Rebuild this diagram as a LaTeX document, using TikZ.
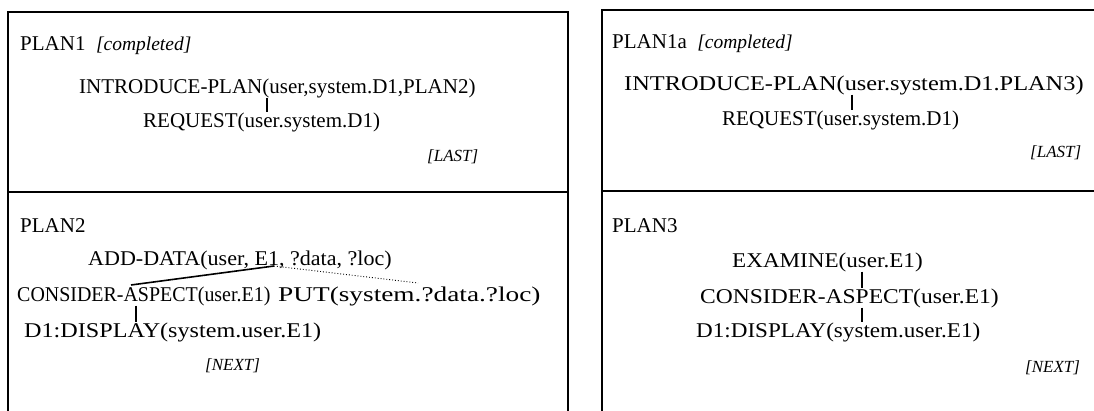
\documentclass[tikz,border=0pt]{standalone}
\usepackage{fontspec}
\usepackage{graphicx}
\setmainfont{Liberation Serif}
\begin{document}
\begin{tikzpicture}[x=1pt,y=-1pt,
  txt/.style={inner sep=0pt,anchor=west,font=\fontsize{21}{23}\selectfont},
  lab/.style={inner sep=0pt,anchor=west,font=\fontsize{17}{19}\selectfont\itshape},
  frame/.style={line width=2.4pt},
  bar/.style={line width=1.8pt},
  dots/.style={line width=0.9pt,dotted}]
\useasboundingbox (0,0) rectangle (1094,411);
% frames
\draw[frame] (8,411) -- (8,12) -- (568,12) -- (568,411);
\draw[frame] (8,192) -- (568,192);
\draw[frame] (602,411) -- (602,10) -- (1094,10);
\draw[frame] (602,191) -- (1094,191);
% PLAN1
\node[txt] (p1) at (20,46) {PLAN1\hspace{0.5em}\textit{\fontsize{19.5}{21}\selectfont [completed]}};
\node[txt] (intro1) at (79,88) {INTRODUCE-PLAN(user,system.D1,PLAN2)};
\node[txt] (req1) at (143,122) {REQUEST(user.system.D1)};
\node[lab] (last1) at (427,157) {[LAST]};
\draw[bar] (intro1.south -| 267,0) -- (req1.north -| 267,0);
% PLAN2
\node[txt] (p2) at (20,226) {PLAN2};
\node[txt] (add) at (88,260) {\scalebox{1.05}[1]{ADD-DATA(user, E1, ?data, ?loc)}};
\node[txt] (cons1) at (17,296) {\scalebox{0.95}[1]{CONSIDER-ASPECT(user.E1)}};
\node[txt] (put) at (278,296) {\scalebox{1.3}[1]{PUT(system.?data.?loc)}};
\node[txt] (disp1) at (24,332) {\scalebox{1.15}[1]{D1:DISPLAY(system.user.E1)}};
\node[lab] (next1) at (205,366) {[NEXT]};
\coordinate (ae) at (274,266);
\coordinate (ca) at (131,285);
\coordinate (pt) at (418,283);
\draw[bar,line width=1.6pt] (ca) -- (ae);
\draw[dots] (ae) -- (pt);
\draw[bar] (cons1.south -| 136,0) -- (disp1.north -| 136,0);
% PLAN1a
\node[txt] (p1a) at (612,44) {PLAN1a\hspace{0.5em}\textit{\fontsize{19.5}{21}\selectfont [completed]}};
\node[txt] (intro2) at (624,85) {\scalebox{1.16}[1]{INTRODUCE-PLAN(user.system.D1.PLAN3)}};
\node[txt] (req2) at (722,120) {REQUEST(user.system.D1)};
\node[lab] (last2) at (1030,153) {[LAST]};
\draw[bar] (intro2.south -| 852,0) -- (req2.north -| 852,0);
% PLAN3
\node[txt] (p3) at (612,226) {PLAN3};
\node[txt] (exam) at (732,262) {\scalebox{1.1}[1]{EXAMINE(user.E1)}};
\node[txt] (cons2) at (700,298) {\scalebox{1.12}[1]{CONSIDER-ASPECT(user.E1)}};
\node[txt] (disp2) at (696,332) {\scalebox{1.1}[1]{D1:DISPLAY(system.user.E1)}};
\node[lab] (next2) at (1025,368) {[NEXT]};
\draw[bar] (exam.south -| 862,0) -- (cons2.north -| 862,0);
\draw[bar] (cons2.south -| 862,0) -- (disp2.north -| 862,0);
\end{tikzpicture}
\end{document}
